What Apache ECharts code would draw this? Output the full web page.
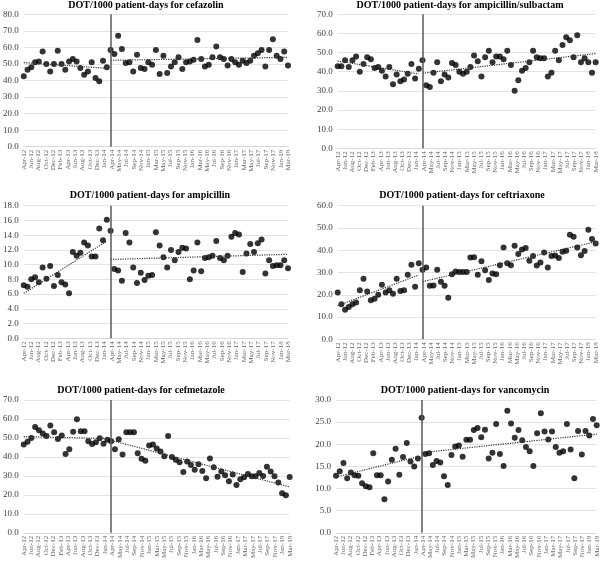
<!DOCTYPE html>
<html><head><meta charset="utf-8">
<script src="https://cdn.jsdelivr.net/npm/echarts@6/dist/echarts.min.js"></script>
<style>html,body{margin:0;padding:0;background:#fff}#c{width:603px;height:561px}</style>
</head><body><div id="c"></div>
<script>
// 71 monthly observations (Mar-14 absent)
const months = ['Apr-12','May-12','Jun-12','Jul-12','Aug-12','Sep-12','Oct-12','Nov-12','Dec-12','Jan-13','Feb-13','Mar-13','Apr-13','May-13','Jun-13','Jul-13','Aug-13','Sep-13','Oct-13','Nov-13','Dec-13','Jan-14','Feb-14',
'Apr-14','May-14','Jun-14','Jul-14','Aug-14','Sep-14','Oct-14','Nov-14','Dec-14','Jan-15','Feb-15','Mar-15','Apr-15','May-15','Jun-15','Jul-15','Aug-15','Sep-15','Oct-15','Nov-15','Dec-15','Jan-16','Feb-16','Mar-16','Apr-16','May-16','Jun-16','Jul-16','Aug-16','Sep-16','Oct-16','Nov-16','Dec-16','Jan-17','Feb-17','Mar-17','Apr-17','May-17','Jun-17','Jul-17','Aug-17','Sep-17','Oct-17','Nov-17','Dec-17','Jan-18','Feb-18','Mar-18'];
const tickLabels = ['Apr-12','Jun-12','Aug-12','Oct-12','Dec-12','Feb-13','Apr-13','Jun-13','Aug-13','Oct-13','Dec-13','Jan-14','Apr-14','May-14','Jul-14','Sep-14','Nov-14','Jan-15','Mar-15','May-15','Jul-15','Sep-15','Nov-15','Jan-16','Mar-16','May-16','Jul-16','Sep-16','Nov-16','Jan-17','Mar-17','May-17','Jul-17','Sep-17','Nov-17','Jan-18','Mar-18'];
const interventionMonth = 'Apr-14';

const cefazolin = [42.5,46.5,48,51,51.5,57.5,50,45.5,50,58,50,46.5,51.5,53,51.5,47.5,43.5,45.5,51,41.5,39.5,52,48,
58.5,56,67,59,50.5,51,45.5,55.5,47.5,47,51,49.5,58.5,44,55,44.5,48.5,51,54,47,51,51.5,52.5,64.5,53,48.5,49.5,54,60.5,54,53,49,53,51,49.5,52,50.5,52,55,56.5,58.5,48.5,58.5,65,55,53,57.5,49];
const ampSulbactam = [42.8,42.8,46,42.5,46,48,40,44,47.5,46.5,42,42.5,40.5,37.5,42.5,33.5,38.5,35,36,39,44,36.5,41.5,
46,33,32,39.5,45,35,38.5,37,44.5,43.5,40,39,40,42.5,48.5,45.5,37.5,47.5,51,45,48,48,46.5,51,43.5,30,35.5,40.5,42,45,51,47.5,47,47,37.5,39.5,51,46,54,58,56.5,47.5,59,45,47,45,39.5,45];
const ampicillin = [7.2,7.0,8.0,8.3,7.6,9.6,8.1,9.8,7.1,8.6,7.6,7.3,6.1,11.7,11.2,11.6,13.0,12.6,11.1,11.1,14.9,13.3,16.1,
14.6,9.4,9.2,7.8,14.3,13.0,9.6,7.5,8.9,7.9,8.5,8.6,14.4,12.6,11.0,9.6,12.0,10.6,11.7,12.3,12.2,8.0,9.2,13.0,9.1,10.9,11.0,11.2,13.2,10.9,10.6,11.2,13.8,14.3,14.1,9.0,11.5,12.8,11.7,12.9,13.4,8.8,10.6,9.8,9.9,9.9,10.6,9.5];
const ceftriaxone = [21,15.7,13.3,14.5,15.7,16.5,22,27.2,21.5,17.5,18.2,20,24.5,21,22,20.5,27.2,21.7,22,29,33.5,23.6,34.2,
31.2,32.3,24,24.2,31.2,25.8,24,18.7,29.2,30.5,30.2,30.2,30.2,36.7,36.9,29,35,31,26.6,29.6,29.2,33.2,41.2,34.2,33.2,42,38.3,40.3,41,35.3,37.4,33.1,34.5,39,32.3,37.4,37.6,36.5,39.3,39.8,47,46,41.2,37.7,39.7,49.2,45,43];
const cefmetazole = [46.5,48,50,55.8,54,52.3,51,56.6,53,49.5,51.3,41.5,44,53.3,59.8,53.5,53.5,48.2,46.8,47.8,49.8,47,49,
48.3,44,49.3,41.3,53,53,53,42,39,38,46,46.5,44.5,42.8,40.3,51,40,38.5,37.2,32,37.6,35.7,33.3,36.2,32.6,28.8,39.2,34.5,29.5,32.3,30.3,27.2,30.8,25.2,28.2,29.3,31,29.8,29.8,31.5,30,34.8,32.3,29.8,26.5,20.8,19.8,29.4];
const vancomycin = [12.9,13.9,15.8,12.3,13.6,13.0,12.9,11.2,10.5,10.3,18.0,13.0,13.0,7.6,11.6,16.5,19.0,13.1,17.1,20.3,16.1,15.0,16.8,
26.0,17.8,18.0,15.3,16.2,15.9,12.8,10.8,17.6,19.5,19.7,17.2,21.0,21.0,23.2,23.7,21.6,23.3,16.8,18.1,24.6,17.8,15.1,27.6,24.7,21.5,23.2,20.9,19.4,18.4,15.1,22.5,27.0,22.9,21.1,22.9,19.4,18.1,18.4,24.6,18.8,12.3,23.0,17.7,23.0,22.0,25.7,24.3];

// trend line end values: [pre start, pre end, post start, post end]
const cefazolinTrend = [50.8, 47.4, 52.2, 54.0];
const ampSulbactamTrend = [45.6, 38.8, 39.2, 49.5];
const ampicillinTrend = [6.1, 13.2, 10.7, 11.4];
const ceftriaxoneTrend = [15.1, 28.9, 25.9, 43.8];
const cefmetazoleTrend = [50.7, 49.7, 48.7, 24.2];
const vancomycinTrend = [12.6, 17.2, 18.1, 22.3];

const panels = [
  {title:'DOT/1000 patient-days for cefazolin', data:cefazolin, trend:cefazolinTrend, max:80, step:10,
   g:{left:22.3,top:14.3,width:265.7,height:132.4}, tx:146, ty:0},
  {title:'DOT/1000 patient-days for ampicillin/sulbactam', data:ampSulbactam, trend:ampSulbactamTrend, max:70, step:10,
   g:{left:337.7,top:14.3,width:258,height:134}, tx:460, ty:0},
  {title:'DOT/1000 patient-days for ampicillin', data:ampicillin, trend:ampicillinTrend, max:18, step:2,
   g:{left:21,top:205.7,width:267,height:132.6}, tx:150, ty:190},
  {title:'DOT/1000 patient-days for ceftriaxone', data:ceftriaxone, trend:ceftriaxoneTrend, max:60, step:10,
   g:{left:337.7,top:205.7,width:258,height:133.6}, tx:462, ty:190},
  {title:'DOT/1000 patient-days for cefmetazole', data:cefmetazole, trend:cefmetazoleTrend, max:70, step:10,
   g:{left:21,top:400,width:268.7,height:136.7}, tx:141, ty:385},
  {title:'DOT/1000 patient-days for vancomycin', data:vancomycin, trend:vancomycinTrend, max:30, step:5,
   g:{left:336,top:400,width:260.7,height:136.7}, tx:465, ty:385}
];

const FONT = '"Liberation Serif", "DejaVu Serif", serif';
const preLast = months.indexOf(interventionMonth) - 1;
const postFirst = months.indexOf(interventionMonth);
const lastIdx = months.length - 1;

const option = {animation:false, backgroundColor:'#fff', title:[], grid:[], xAxis:[], yAxis:[], series:[]};
panels.forEach((p, i) => {
  option.title.push({text:p.title, left:p.tx, top:p.ty, textAlign:'center', padding:0,
    textStyle:{fontFamily:FONT, fontWeight:'bold', fontSize:10, color:'#000'}});
  option.grid.push(Object.assign({containLabel:false}, p.g));
  option.xAxis.push({type:'category', gridIndex:i, data:months, boundaryGap:false, show:false});
  option.xAxis.push({type:'category', gridIndex:i, data:tickLabels, boundaryGap:false, position:'bottom',
    axisLine:{show:true, lineStyle:{color:'#d9d9d9'}}, axisTick:{show:false},
    axisLabel:{interval:0, rotate:90, fontSize:7, fontFamily:FONT, color:'#666', margin:3},
    splitLine:{show:false}});
  option.yAxis.push({type:'value', gridIndex:i, min:0, max:p.max, interval:p.step,
    axisLine:{show:false}, axisTick:{show:false},
    axisLabel:{formatter:v=>v.toFixed(1), fontSize:9, fontFamily:FONT, color:'#404040', margin:5},
    splitLine:{lineStyle:{color:'#e3e3e3', width:1}}});
  option.series.push({type:'scatter', xAxisIndex:2*i, yAxisIndex:i, data:p.data, symbolSize:6,
    itemStyle:{color:'#000'}, z:3,
    markLine:{silent:true, symbol:'none', label:{show:false},
      lineStyle:{color:'#595959', width:1.5, type:'solid'}, data:[{xAxis:interventionMonth}]}});
  option.series.push({type:'line', xAxisIndex:2*i, yAxisIndex:i, symbol:'none', z:4,
    lineStyle:{color:'#333', width:1.2, type:'dotted'},
    data:[[0, p.trend[0]], [preLast, p.trend[1]]]});
  option.series.push({type:'line', xAxisIndex:2*i, yAxisIndex:i, symbol:'none', z:4,
    lineStyle:{color:'#333', width:1.2, type:'dotted'},
    data:[[postFirst, p.trend[2]], [lastIdx, p.trend[3]]]});
});
const chart = echarts.init(document.getElementById('c'), null, {renderer:'canvas'});
chart.setOption(option);
</script></body></html>
